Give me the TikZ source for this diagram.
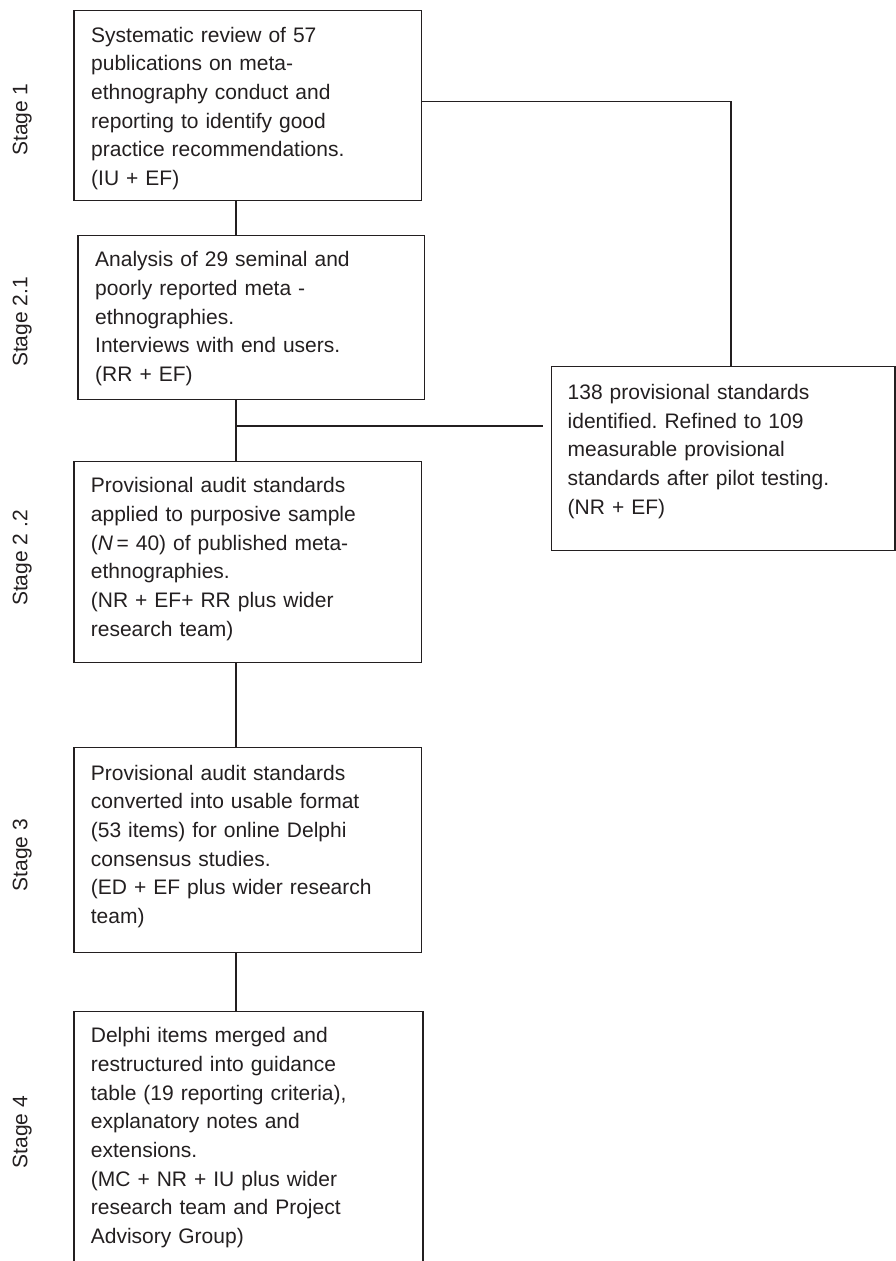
\documentclass[tikz,border=0pt]{standalone}
\usepackage{fontspec}
\setmainfont{Liberation Sans}
\definecolor{ink}{RGB}{35,31,32}
\frenchspacing
\begin{document}
\begin{tikzpicture}[x=1pt,y=-1pt,
  stagebox/.style={draw=ink, line width=1.2pt, rectangle, inner sep=0pt, anchor=north west},
  boxtext/.style={anchor=base west, text width=330pt, align=left, inner sep=0pt, text=ink,
    font=\fontsize{21}{28.7}\selectfont},
  stagelabel/.style={rotate=90, anchor=base, inner sep=0pt, text=ink,
    font=\fontsize{21}{25}\selectfont},
  link/.style={draw=ink, line width=1.2pt}]
\useasboundingbox (0,0) rectangle (896,1261);

% boxes
\node[stagebox, minimum width=347.4pt, minimum height=190pt] (b1) at (73.3,9.5) {};
\node[stagebox, minimum width=346.7pt, minimum height=163.5pt] (b2) at (77.3,235) {};
\node[stagebox, minimum width=343.6pt, minimum height=184pt] (r) at (550.7,366) {};
\node[stagebox, minimum width=347.4pt, minimum height=201pt] (b3) at (73.3,460.7) {};
\node[stagebox, minimum width=347.4pt, minimum height=205pt] (b4) at (73.3,746.7) {};
\node[stagebox, minimum width=349pt, minimum height=262pt] (b5) at (73.3,1011) {};

% texts
\node[boxtext] (t1) at (91,42) {Systematic review of 57\\publications on meta-\\ethnography conduct and\\reporting to identify good\\practice recommendations.\\(IU + EF)};
\node[boxtext] (t2) at (95,266.7) {Analysis of 29 seminal and\\poorly reported meta -\\ethnographies.\\Interviews with end users.\\(RR + EF)};
\node[boxtext] (tr) at (567.5,399.3) {138 provisional standards\\identified. Refined to 109\\measurable provisional\\standards after pilot testing.\\(NR + EF)};
\node[boxtext] (t3) at (90.7,492.7) {Provisional audit standards\\applied to purposive sample\\(\textit{N}\,= 40) of published meta-\\ethnographies.\\(NR + EF+ RR plus wider\\research team)};
\node[boxtext] (t4) at (90.7,780) {Provisional audit standards\\converted into usable format\\(53 items) for online Delphi\\consensus studies.\\(ED + EF plus wider research\\team)};
\node[boxtext] (t5) at (90.7,1042.7) {Delphi items merged and\\restructured into guidance\\table (19 reporting criteria),\\explanatory notes and\\extensions.\\(MC + NR + IU plus wider\\research team and Project\\Advisory Group)};

% stage labels
\node[stagelabel] (s1) at (27.3,119.5) {Stage 1};
\node[stagelabel] (s21) at (27.3,322) {Stage 2.1};
\node[stagelabel] (s22) at (27.3,558) {Stage 2 .2};
\node[stagelabel] (s3) at (27.3,855) {Stage 3};
\node[stagelabel] (s4) at (27.3,1132) {Stage 4};

% connectors
\coordinate (trunk) at (236,0);
\coordinate (elbow) at (731,101.7);
\coordinate (branch) at (236,426);
\coordinate (branchend) at (543.3,426);
\draw[link] (b1.south -| trunk) -- (b2.north -| trunk);
\draw[link] (b2.south -| trunk) -- (b3.north -| trunk);
\draw[link] (branch) -- (branchend);
\draw[link] (b3.south -| trunk) -- (b4.north -| trunk);
\draw[link] (b4.south -| trunk) -- (b5.north -| trunk);
\draw[link] (b1.east |- elbow) -- (elbow) -- (elbow |- r.north);
\end{tikzpicture}
\end{document}
